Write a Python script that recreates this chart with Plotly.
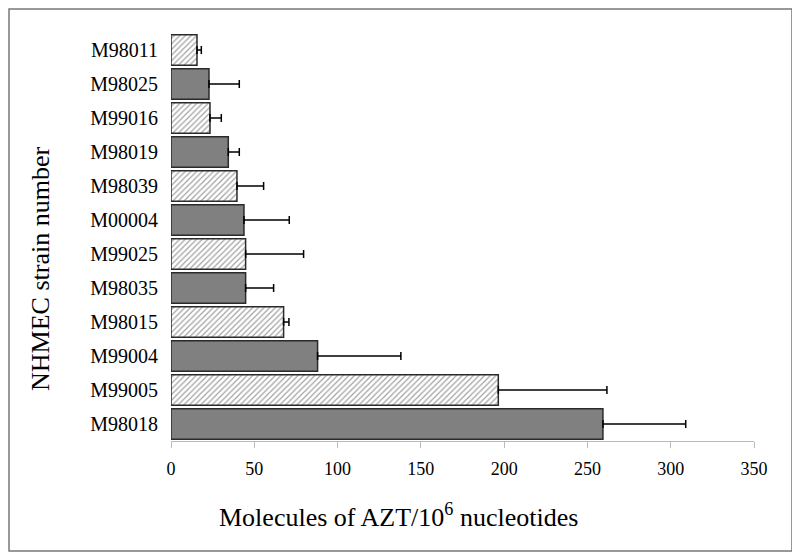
import plotly.graph_objects as go

strains = ["M98011", "M98025", "M99016", "M98019", "M98039", "M00004",
           "M99025", "M98035", "M98015", "M99004", "M99005", "M98018"]
values = [15.6, 22.8, 23.4, 34.4, 39.6, 43.8, 44.8, 44.8, 67.6, 88.0, 196.5, 259.3]
err_upper = [18.2, 41.0, 30.2, 41.0, 55.6, 71.0, 79.6, 61.6, 70.8, 138.0, 261.7, 309.0]
hatched = [True, False, True, False, True, False, True, False, True, False, True, False]
x_ticks = [0, 50, 100, 150, 200, 250, 300, 350]

errors = [u - v for u, v in zip(err_upper, values)]
colors = ["white" if h else "#808080" for h in hatched]
shapes = ["/" if h else "" for h in hatched]

font = "Liberation Serif, Times New Roman, serif"

fig = go.Figure(go.Bar(
    y=strains, x=values, orientation="h",
    marker=dict(color=colors,
                line=dict(color="#2a2a2a", width=1.5),
                pattern=dict(shape=shapes, fgcolor="#9a9a9a", size=4, solidity=0.3)),
    error_x=dict(type="data", array=errors, arrayminus=[0] * len(errors),
                 symmetric=False, color="black", thickness=1.5, width=4),
    width=0.9,
))

# page offset (body margin) compensation
OFF = 8
W, H = 800 - OFF, 559 - OFF
L, R, T, B = 171 - OFF, W - (754 - OFF), 33 - OFF, H - (441 - OFF)
pw, ph = W - L - R, H - T - B

def fx(x):  # figure pixel -> paper
    return (x - L) / pw

def fy(y):
    return (H - B - y) / ph

def px(x):  # screen pixel -> paper
    return fx(x - OFF)

def py(y):
    return fy(y - OFF)

fig.update_layout(
    width=W, height=H,
    margin=dict(l=L, r=R, t=T, b=B),
    paper_bgcolor="white", plot_bgcolor="white",
    font=dict(family=font, color="black"),
    showlegend=False,
    xaxis=dict(range=[0, 350], tickvals=x_ticks, ticks="outside", ticklen=6,
               tickcolor="#bbbbbb", showline=True, linecolor="#bbbbbb", linewidth=1,
               showgrid=False, zeroline=False, ticklabelstandoff=5,
               tickfont=dict(size=18, family=font)),
    yaxis=dict(autorange="reversed", showgrid=False, zeroline=False, showline=False,
               ticks="", ticklabelstandoff=12, tickfont=dict(size=20, family=font)),
    annotations=[
        dict(text="Molecules of AZT/10<sup>6</sup> nucleotides", xref="paper", yref="paper",
             x=px(398), y=py(515), showarrow=False, font=dict(size=26, family=font),
             xanchor="center", yanchor="middle"),
        dict(text="NHMEC strain number", xref="paper", yref="paper",
             x=px(40), y=py(269), showarrow=False, textangle=-90,
             font=dict(size=26, family=font), xanchor="center", yanchor="middle"),
    ],
    shapes=[dict(type="rect", xref="paper", yref="paper",
                 x0=fx(1), x1=px(792), y0=py(551), y1=fy(1),
                 line=dict(color="#777777", width=1.5))],
)

fig.write_html("out.html")
